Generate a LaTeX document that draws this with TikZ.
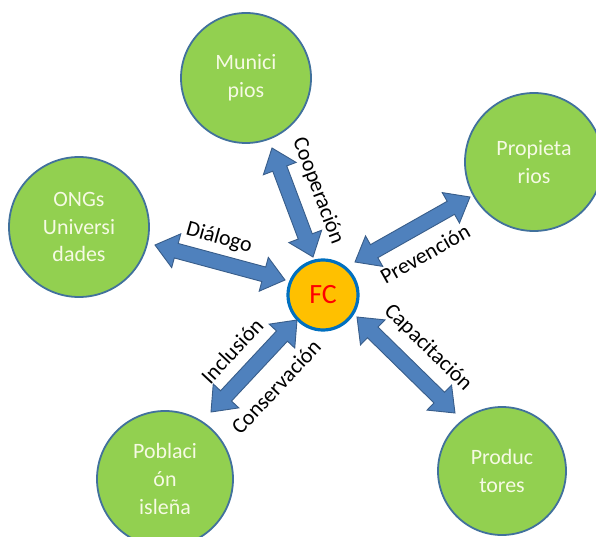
\documentclass[tikz,border=0pt]{standalone}
\usepackage{fontspec}
\setmainfont{Carlito}
\usetikzlibrary{calc}
\definecolor{greenfill}{HTML}{92D050}
\definecolor{greenline}{HTML}{41719C}
\definecolor{arrfill}{HTML}{4F81BD}
\definecolor{arrline}{HTML}{385D8A}
\definecolor{fcfill}{HTML}{FFC000}
\definecolor{fcline}{HTML}{0070C0}
\definecolor{fctext}{HTML}{FF0000}
\definecolor{circtext}{RGB}{246,250,228}
\def\ahl{22bp}
\def\ahw{17.5bp}
\def\asw{7.5bp}
\newcommand\blockarrow[2]{%
  \path ($(#1)!\ahl!(#2)$) coordinate (ha) ($(#2)!\ahl!(#1)$) coordinate (hb);
  \draw[blockarr] (#1) -- ($(ha)!\ahw!90:(#2)$) -- ($(ha)!\asw!90:(#2)$)
    -- ($(hb)!\asw!-90:(#1)$) -- ($(hb)!\ahw!-90:(#1)$) -- (#2)
    -- ($(hb)!\ahw!90:(#1)$) -- ($(hb)!\asw!90:(#1)$)
    -- ($(ha)!\asw!-90:(#2)$) -- ($(ha)!\ahw!-90:(#2)$) -- cycle;}
\tikzset{
  actor/.style={circle, draw=greenline, line width=1.8bp, fill=greenfill,
    text=circtext, align=center, inner sep=0pt, minimum size=#1,
    font=\fontsize{22}{28}\selectfont},
  blockarr/.style={fill=arrfill, draw=arrline, line width=0.9bp, line join=miter},
  lbl/.style={font=\fontsize{22}{26}\selectfont, text=black, inner sep=0pt},
}
\begin{document}
\begin{tikzpicture}[x=1bp, y=-1bp]
\clip (0,0) rectangle (596,537);
\fill[white] (0,0) rectangle (596,537);
% actors
\node[actor=130bp] (muni) at (246,78) {Munici\\pios};
\node[actor=138bp] (prop) at (534,162) {Propieta\\rios};
\node[actor=140bp] (ongs) at (79,227) {ONGs\\Universi\\dades};
\node[actor=136bp] (pobl) at (165,479) {Poblaci\\ón\\isleña};
\node[actor=128bp] (prod) at (502,471) {Produc\\tores};
% central
\node[circle, draw=fcline, line width=3.2bp, fill=fcfill, minimum size=70bp,
  inner sep=0pt, text=fctext, font=\fontsize{28}{30}\selectfont] (fc) at (323,295) {FC};
% arrow ends
\coordinate (coopA) at (272,148); \coordinate (coopB) at (313,257);
\coordinate (dialA) at (155,245); \coordinate (dialB) at (285,280);
\coordinate (prevA) at (355,262); \coordinate (prevB) at (470,197);
\coordinate (inclA) at (297,320); \coordinate (inclB) at (211,412);
\coordinate (capA)  at (357,317); \coordinate (capB)  at (455,413);
\blockarrow{coopA}{coopB}
\blockarrow{dialA}{dialB}
\blockarrow{prevA}{prevB}
\blockarrow{inclA}{inclB}
\blockarrow{capA}{capB}
% labels
\node[lbl, rotate=-69.4] (lcoop) at (318,191) {Cooperación};
\node[lbl, rotate=-15.5] (ldial) at (219,238) {Diálogo};
\node[lbl, rotate=29.5] (lprev) at (425,254) {Prevención};
\node[lbl, rotate=46.9] (lincl) at (232,351) {Inclusión};
\node[lbl, rotate=46.9] (lcons) at (276,387) {Conservación};
\node[lbl, rotate=-44.4] (lcap) at (428,348) {Capacitación};
\end{tikzpicture}
\end{document}
